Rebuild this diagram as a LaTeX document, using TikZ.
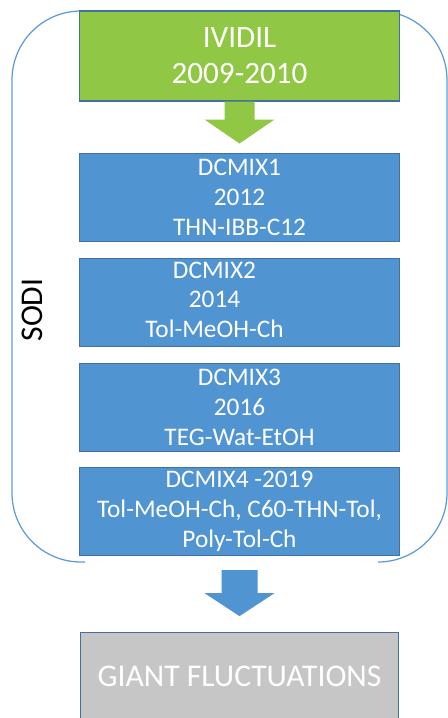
\documentclass[tikz,border=0pt]{standalone}
\usepackage{fontspec}
\setmainfont{Carlito}
\usepackage{tikz}
\usetikzlibrary{positioning, calc}
\definecolor{sodiline}{HTML}{5B9BD5}
\definecolor{edge}{HTML}{41719C}
\definecolor{ividilgreen}{HTML}{90C846}
\definecolor{dcmixblue}{HTML}{5094D1}
\definecolor{giantgray}{HTML}{C6C6C6}

\begin{document}
\begin{tikzpicture}[
  x=0.02cm, y=-0.02cm,
  node distance=0.31cm,
  greenbox/.style={draw=edge, fill=ividilgreen, line width=0.6pt, inner ysep=1pt, minimum width=6.42cm, minimum height=1.8cm, align=center, text=white, font=\fontsize{17.7}{20.5}\selectfont},
  bluebox/.style={draw=edge, fill=dcmixblue, line width=0.6pt, inner ysep=1pt, minimum width=6.42cm, minimum height=1.77cm, align=center, text=white, font=\fontsize{14.4}{17}\selectfont},
  graybox/.style={draw=edge, fill=giantgray, line width=0.6pt, inner ysep=1pt, minimum width=6.36cm, minimum height=1.8cm, align=center, text=white, font=\fontsize{18}{21}\selectfont},
  boxtext/.style={align=center, inner ysep=1pt, text=white, font=\fontsize{14.4}{17}\selectfont},
  frame/.style={draw=sodiline, line width=0.7pt, rounded corners=1.38cm}
]
\useasboundingbox (0,0) rectangle (448,718);
\clip (0,0) rectangle (448,718);

% SODI frame, open at the bottom
\draw[frame] (85,562) -- (12,562) -- (12,11) -- (447,11) -- (447,562) -- (378,562);
\node[rotate=90, font=\fontsize{18}{21}\selectfont] (sodi) at (32,310) {SODI};

% IVIDIL
\node[greenbox] (ividil) at (239.5,56) {IVIDIL\\2009-2010};

% DCMIX campaigns
\node[bluebox, below=1.02cm of ividil] (dcmix1) {DCMIX1\\2012\\THN-IBB-C12};
\node[bluebox, below=of dcmix1] (dcmix2) {};
\node[boxtext, xshift=-0.5cm, yshift=0.05cm] (dcmix2txt) at (dcmix2) {DCMIX2\\2014\\Tol-MeOH-Ch};
\node[bluebox, below=of dcmix2] (dcmix3) {DCMIX3\\2016\\TEG-Wat-EtOH};
\node[bluebox, below=0.29cm of dcmix3] (dcmix4) {DCMIX4 -2019\\Tol-MeOH-Ch, C60-THN-Tol,\\Poly-Tol-Ch};

% outcome
\node[graybox, below=1.52cm of dcmix4, minimum height=1.76cm, anchor=north] (giant) {GIANT FLUCTUATIONS};

% block arrows
\fill[ividilgreen] ($(ividil.south)+(-15,0)$) -- ++(0,18) -- ++(-20,0)
  -- ($(ividil.south)+(0,42)$) -- ($(ividil.south)+(35,18)$) -- ++(-20,0)
  -- ($(ividil.south)+(15,0)$) -- cycle;
\fill[dcmixblue] ($(giant.north)+(-18,-62)$) -- ++(0,23) -- ++(-17,0)
  -- ($(giant.north)+(0,-16)$) -- ($(giant.north)+(35,-39)$) -- ++(-17,0)
  -- ($(giant.north)+(18,-62)$) -- cycle;

\end{tikzpicture}
\end{document}
